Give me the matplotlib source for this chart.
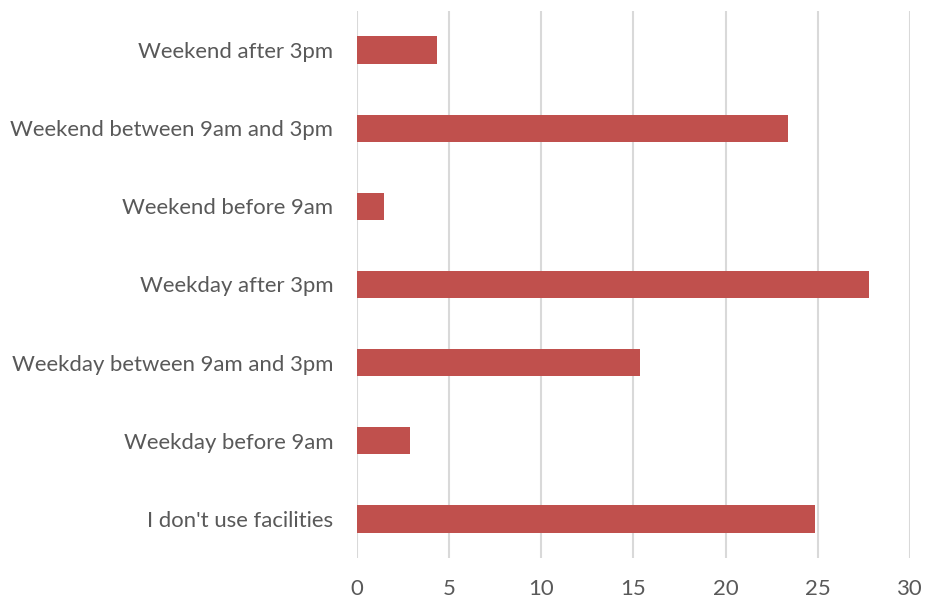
import matplotlib
matplotlib.use("Agg")
import matplotlib.pyplot as plt

categories = [
    "I don't use facilities",
    "Weekday before 9am",
    "Weekday between 9am and 3pm",
    "Weekday after 3pm",
    "Weekend before 9am",
    "Weekend between 9am and 3pm",
    "Weekend after 3pm",
]
values = [24.85, 2.9, 15.35, 27.8, 1.45, 23.4, 4.35]
xticks = [0, 5, 10, 15, 20, 25, 30]

plt.rcParams['font.family'] = ['Lato', 'DejaVu Sans']

fig = plt.figure(figsize=(9.26, 6.04), dpi=100)
ax = fig.add_axes([0.3855, 0.0762, 0.5972, 0.9056])

ax.barh(range(len(categories)), values, height=0.35, color="#C0504D", zorder=3)

ax.set_xlim(0, 30)
ax.set_ylim(-0.5, len(categories) - 0.5)
ax.set_xticks(xticks)
ax.set_yticks(range(len(categories)))
ax.set_yticklabels(categories)

ax.grid(axis="x", color="#D9D9D9", linewidth=1.5, zorder=0)
for s in ax.spines.values():
    s.set_visible(False)

ax.tick_params(axis="both", length=0, labelsize=15.9, labelcolor="#595959")
ax.tick_params(axis="x", pad=15)
ax.tick_params(axis="y", pad=17)

fig.savefig("out.png", dpi=100)
